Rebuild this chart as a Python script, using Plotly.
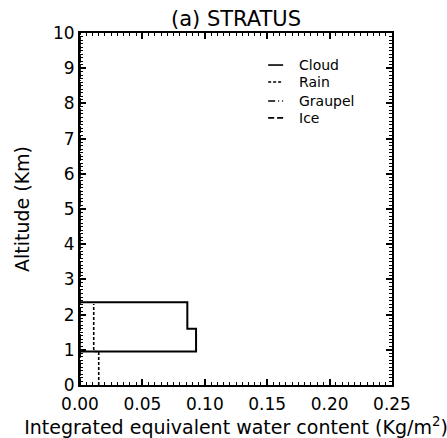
import plotly.graph_objects as go

# Vertical profiles of integrated equivalent water content (kg/m^2) by altitude (km)
cloud_alt = [0.95, 0.95, 1.6, 2.35, 2.35]
cloud_val = [0.0, 0.093, 0.086, 0.086, 0.0]

rain_alt = [0.0, 0.95, 2.3]
rain_val = [0.015, 0.011, 0.011]

graupel_alt = [0.0, 10.0]
graupel_val = [0.0, 0.0]

ice_alt = [0.0, 10.0]
ice_val = [0.0, 0.0]

series_names = ["Cloud", "Rain", "Graupel", "Ice"]
x_ticks = [0.0, 0.05, 0.10, 0.15, 0.20, 0.25]
y_ticks = list(range(0, 11))
x_range = [0, 0.25]
y_range = [0, 10]

FONT = "DejaVu Sans"
dashes = {"Cloud": "solid", "Rain": "3px,2px", "Graupel": "7px,3px,1px,3px", "Ice": "6px,3px"}

fig = go.Figure()
fig.add_trace(go.Scatter(x=cloud_val, y=cloud_alt, mode="lines", line_shape="vh",
                         line=dict(color="black", width=2, dash=dashes["Cloud"]), name="Cloud"))
fig.add_trace(go.Scatter(x=rain_val, y=rain_alt, mode="lines", line_shape="vh",
                         line=dict(color="black", width=1.6, dash=dashes["Rain"]), name="Rain"))
fig.add_trace(go.Scatter(x=graupel_val, y=graupel_alt, mode="lines",
                         line=dict(color="black", width=1.6, dash=dashes["Graupel"]), name="Graupel"))
fig.add_trace(go.Scatter(x=ice_val, y=ice_alt, mode="lines",
                         line=dict(color="black", width=1.6, dash=dashes["Ice"]), name="Ice"))
# empty trace that anchors the top/right tick axes
fig.add_trace(go.Scatter(x=[None], y=[None], xaxis="x2", yaxis="y2", showlegend=False, hoverinfo="skip"))

# Key drawn in the upper right of the plot frame
key_y = [0.909, 0.861, 0.807, 0.759]
for name, ky in zip(series_names, key_y):
    fig.add_shape(type="line", xref="paper", yref="paper", x0=0.603, x1=0.651, y0=ky, y1=ky,
                  line=dict(color="black", width=1.6, dash=dashes[name]))
    fig.add_annotation(xref="paper", yref="paper", x=0.695, y=ky, text=name, showarrow=False,
                       xanchor="left", yanchor="middle", font=dict(family=FONT, size=14, color="black"))

tick_common = dict(showgrid=False, zeroline=False, showline=True, linecolor="black", linewidth=2,
                   ticks="inside", ticklen=6, tickwidth=1.5, tickcolor="black", automargin=False)
label_font = dict(family=FONT, size=17, color="black")

fig.update_layout(
    width=447, height=438,
    margin=dict(l=80, r=55, t=33, b=53),
    paper_bgcolor="white", plot_bgcolor="white",
    showlegend=False,
    title=dict(text="(a) STRATUS", x=0.528, xanchor="center", y=0.958, yanchor="middle",
               font=dict(family=FONT, size=21, color="black")),
    xaxis=dict(range=x_range, tickvals=x_ticks, tickformat=".2f", tickfont=label_font,
               ticklabelstandoff=3,
               minor=dict(dtick=0.005, ticks="inside", ticklen=3, tickcolor="black", tickwidth=1),
               title=dict(text="Integrated equivalent water content (Kg/m<sup>2</sup>)",
                          font=dict(family=FONT, size=19, color="black"), standoff=2),
               **tick_common),
    yaxis=dict(range=y_range, tickvals=y_ticks, tickfont=label_font,
               minor=dict(dtick=0.1, ticks="inside", ticklen=3, tickcolor="black", tickwidth=1),
               title=dict(text="Altitude (Km)", font=dict(family=FONT, size=19, color="black"), standoff=18),
               **tick_common),
    xaxis2=dict(range=x_range, tickvals=x_ticks, overlaying="x", side="top", anchor="y2",
                showticklabels=False,
                minor=dict(dtick=0.005, ticks="inside", ticklen=3, tickcolor="black", tickwidth=1),
                **tick_common),
    yaxis2=dict(range=y_range, tickvals=y_ticks, overlaying="y", side="right", anchor="x2",
                showticklabels=False,
                minor=dict(dtick=0.1, ticks="inside", ticklen=3, tickcolor="black", tickwidth=1),
                **tick_common),
)

fig.write_html("out.html")
